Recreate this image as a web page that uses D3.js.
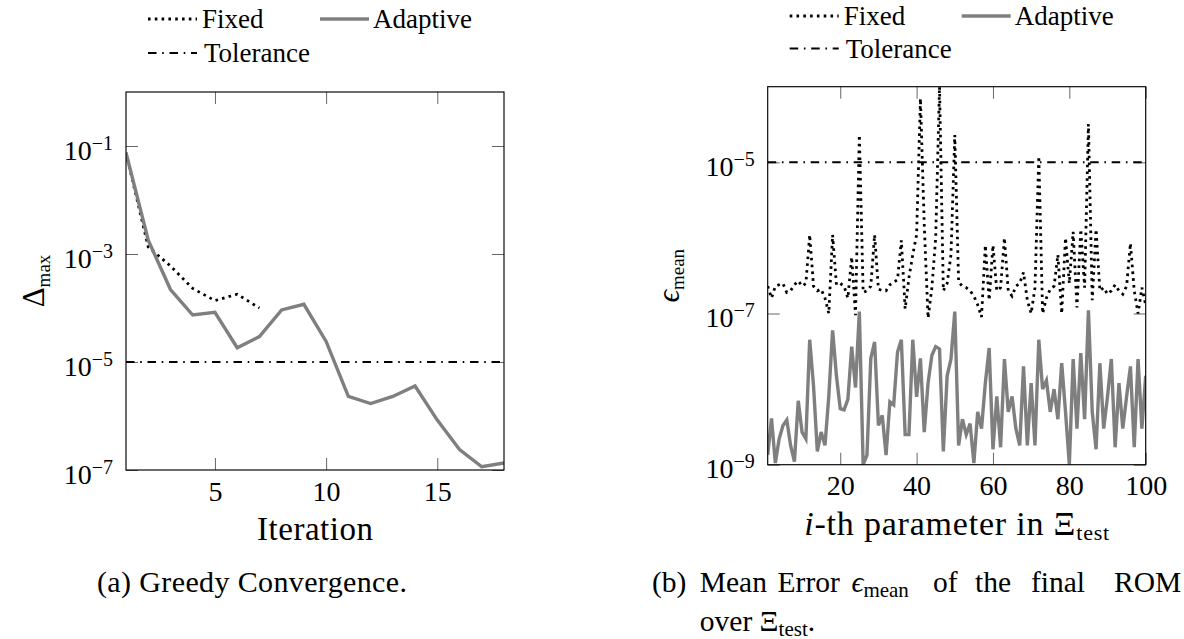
<!DOCTYPE html>
<html>
<head>
<meta charset="utf-8">
<script src="https://cdn.jsdelivr.net/npm/d3@7"></script>
<style>
  body { margin: 0; background: #fff; }
  svg text { font-family: "Liberation Serif", "DejaVu Serif", serif; fill: #000; }
</style>
</head>
<body>
<svg id="chart" width="1184" height="639"></svg>
<script>
// ---- (a) greedy convergence: max error estimator per iteration ----
const greedyAdaptive = [7.5e-2, 1.8e-3, 2.2e-4, 7.4e-5, 8.3e-5, 1.84e-5, 2.95e-5, 9.2e-5, 1.17e-4,
  2.4e-5, 2.3e-6, 1.7e-6, 2.3e-6, 3.6e-6, 8.4e-7, 2.4e-7, 1.15e-7, 1.35e-7];
const greedyFixed = [7.5e-2, 1.35e-3, 6.0e-4, 2.3e-4, 1.37e-4, 1.8e-4, 1.0e-4];
const tolerance = 1e-5;
const iterTicks = [5, 10, 15];
const greedyExpTicks = [-1, -3, -5, -7];

// ---- (b) mean error of the final ROM over the test set (100 parameters) ----
const meanFixed = [
  2.3e-7, 1.6e-7, 2.3e-7, 2.4e-7, 2.5e-7, 1.9e-7, 2.0e-7, 2.4e-7, 2.7e-7, 2.3e-7,
  2.5e-7, 1.1e-6, 2.3e-7, 2.0e-7, 2.1e-7, 1.6e-7, 1.0e-7, 1.1e-6, 2.4e-7, 2.5e-7,
  2.3e-7, 1.6e-7, 5.6e-7, 9.5e-8, 2.3e-5, 1.9e-7, 2.0e-7, 2.3e-7, 1.1e-6, 2.1e-7,
  2.0e-7, 2.0e-7, 2.4e-7, 2.6e-7, 2.8e-7, 9.3e-7, 1.15e-7, 3.0e-7, 6.0e-7, 1.1e-6,
  7.0e-5, 1.5e-6, 8.7e-8, 2.2e-7, 1.0e-6, 1.0e-4, 2.0e-7, 2.5e-7, 6.0e-7, 2.3e-5,
  2.6e-7, 2.3e-7, 2.2e-7, 2.0e-7, 1.7e-7, 1.3e-7, 9.0e-8, 8.0e-7, 1.5e-7, 8.0e-7,
  2.0e-7, 2.2e-7, 1.0e-6, 2.0e-7, 1.7e-7, 2.3e-7, 2.5e-7, 3.5e-7, 1.5e-7, 1.0e-7,
  2.2e-7, 1.2e-5, 1.0e-7, 1.6e-7, 2.1e-7, 2.3e-7, 6.0e-7, 1.0e-7, 1.0e-6, 2.5e-7,
  1.2e-6, 1.2e-7, 1.3e-6, 2.2e-7, 3.2e-5, 1.5e-7, 1.3e-6, 2.0e-7, 2.2e-7, 1.8e-7,
  2.0e-7, 2.4e-7, 2.0e-7, 1.8e-7, 2.3e-7, 8.5e-7, 2.0e-7, 1.0e-7, 2.2e-7, 1.3e-7
];
const meanAdaptive = [
  1.35e-9, 4.1e-9, 1.05e-9, 2.2e-9, 3.3e-9, 3.9e-9, 1.8e-9, 1.1e-9, 7.0e-9, 2.7e-9,
  2.2e-9, 4.5e-8, 1.1e-8, 1.5e-9, 2.7e-9, 1.8e-9, 8.0e-9, 6.0e-8, 1.5e-8, 5.5e-9,
  5.3e-9, 7.3e-9, 3.65e-8, 1.05e-8, 1.06e-7, 1.0e-9, 1.34e-9, 2.55e-8, 4.2e-8, 3.3e-9,
  4.5e-9, 1.34e-9, 6.8e-9, 6.2e-9, 3.1e-8, 4.5e-8, 2.5e-9, 2.5e-9, 4.5e-8, 7.9e-9,
  2.55e-8, 2.7e-9, 1.2e-8, 2.8e-8, 3.65e-8, 3.4e-8, 1.5e-9, 1.5e-8, 2.5e-8, 1.06e-7,
  1.8e-9, 4.0e-9, 2.5e-9, 3.5e-9, 1.05e-9, 5.0e-9, 3.0e-9, 1.2e-8, 3.5e-8, 1.6e-9,
  8.0e-9, 1.7e-9, 2.5e-8, 5.0e-9, 8.0e-9, 3.0e-9, 1.8e-9, 2.0e-8, 1.8e-9, 1.2e-8,
  1.8e-9, 4.5e-8, 1.0e-8, 1.3e-8, 5.0e-9, 1.0e-8, 4.0e-9, 2.2e-8, 5.0e-9, 1.0e-9,
  2.5e-8, 3.0e-9, 3.0e-8, 4.0e-9, 1.1e-7, 5.0e-9, 1.6e-9, 2.2e-8, 3.0e-9, 8.0e-9,
  2.5e-8, 1.7e-9, 1.2e-8, 3.0e-9, 8.0e-9, 2.0e-8, 1.7e-9, 2.5e-8, 3.0e-9, 1.5e-8
];
const paramTicks = [20, 40, 60, 80, 100];
const meanExpTicks = [-5, -7, -9];

// ---- styles ----
const GRAY = "#7f7f7f";
const styles = {
  fixed:     { stroke: "#000", width: 2.8, dash: "2.6,4.2", cap: "butt" },
  adaptive:  { stroke: GRAY,   width: 3.4, dash: null,      cap: "butt" },
  tolerance: { stroke: "#000", width: 2.1, dash: "8.5,5.7,1.6,5.7", cap: "butt" }
};

const svg = d3.select("#chart");

function styled(sel, s) {
  return sel.attr("fill", "none").attr("stroke", s.stroke).attr("stroke-width", s.width)
    .attr("stroke-dasharray", s.dash).attr("stroke-linecap", s.cap).attr("stroke-linejoin", "miter");
}

function powerLabel(text, exp, base, sup) {
  text.text(null);
  text.append("tspan").attr("font-size", base).text("10");
  text.append("tspan").attr("font-size", sup).attr("dy", -10).text("\u2212" + Math.abs(exp));
}

function drawPanel(cfg) {
  const { box, x, y, xTicks, yExps, series, clipId, legendRow1, legendRow2 } = cfg;
  const g = svg.append("g");

  g.append("clipPath").attr("id", clipId).append("rect")
    .attr("x", box.x).attr("y", box.y).attr("width", box.w).attr("height", box.h);

  // inward ticks on all four sides
  const tickLen = 12;
  const yTickVals = yExps.map(e => Math.pow(10, e));
  const bottom = g.append("g").attr("transform", `translate(0,${box.y + box.h})`)
    .call(d3.axisBottom(x).tickValues(xTicks).tickSize(-tickLen).tickFormat(d3.format("d")));
  bottom.selectAll("text").attr("font-size", 28).attr("y", 30.5).attr("dy", 0);
  g.append("g").attr("transform", `translate(0,${box.y})`)
    .call(d3.axisTop(x).tickValues(xTicks).tickSize(-tickLen).tickFormat(""));
  const left = g.append("g").attr("transform", `translate(${box.x},0)`)
    .call(d3.axisLeft(y).tickValues(yTickVals).tickSize(-tickLen).tickPadding(13));
  left.selectAll("text").attr("dy", 13).each(function (d) {
    powerLabel(d3.select(this), Math.round(Math.log10(d)), 28, 20);
  });
  g.append("g").attr("transform", `translate(${box.x + box.w},0)`)
    .call(d3.axisRight(y).tickValues(yTickVals).tickSize(-tickLen).tickFormat(""));

  g.selectAll(".domain").remove();
  g.selectAll(".tick line").attr("stroke", "#666").attr("stroke-width", 1);
  g.selectAll(".tick text").attr("font-family", null).attr("fill", "#000");

  // data
  const plot = g.append("g").attr("clip-path", `url(#${clipId})`);
  plot.append("line")
    .attr("x1", box.x).attr("x2", box.x + box.w)
    .attr("y1", y(tolerance)).attr("y2", y(tolerance))
    .call(styled, styles.tolerance);
  series.forEach(s => {
    const line = d3.line().x((d, i) => x(i + 1)).y(d => y(d));
    plot.append("path").attr("d", line(s.values)).call(styled, styles[s.key]);
  });

  // frame
  g.append("rect").attr("x", box.x).attr("y", box.y).attr("width", box.w).attr("height", box.h)
    .attr("fill", "none").attr("stroke", "#000").attr("stroke-width", 1.15);

  // legend above the frame
  const lg = g.append("g").attr("transform", `translate(${box.x},0)`);
  const rows = [
    { key: "fixed", label: "Fixed", x0: 22, tx: 76, base: legendRow1 },
    { key: "adaptive", label: "Adaptive", x0: 194, tx: 247, base: legendRow1 },
    { key: "tolerance", label: "Tolerance", x0: 22, tx: 78, base: legendRow2 }
  ];
  rows.forEach(r => {
    lg.append("line").attr("x1", r.x0).attr("x2", r.x0 + 49)
      .attr("y1", r.base - 9).attr("y2", r.base - 9).call(styled, styles[r.key]);
    lg.append("text").attr("x", r.tx).attr("y", r.base).attr("font-size", 27).text(r.label);
  });
  return g;
}

// panel (a)
const boxA = { x: 126, y: 92, w: 378, h: 378 };
const xA = d3.scaleLinear().domain([1, 18]).range([boxA.x, boxA.x + boxA.w]);
const yA = d3.scaleLog().domain([1e-7, 1]).range([boxA.y + boxA.h, boxA.y]);
drawPanel({
  box: boxA, x: xA, y: yA, xTicks: iterTicks, yExps: greedyExpTicks, clipId: "clipA",
  legendRow1: 28, legendRow2: 62,
  series: [{ key: "fixed", values: greedyFixed }, { key: "adaptive", values: greedyAdaptive }]
});

// panel (b)
const boxB = { x: 767.7, y: 86.7, w: 378, h: 378 };
const xB = d3.scaleLinear().domain([1, 100]).range([boxB.x, boxB.x + boxB.w]);
const yB = d3.scaleLog().domain([1e-9, 1e-4]).range([boxB.y + boxB.h, boxB.y]);
drawPanel({
  box: boxB, x: xB, y: yB, xTicks: paramTicks, yExps: meanExpTicks, clipId: "clipB",
  legendRow1: 25, legendRow2: 57.5,
  series: [{ key: "fixed", values: meanFixed }, { key: "adaptive", values: meanAdaptive }]
});

// axis titles
const ylabA = svg.append("text")
  .attr("transform", `translate(44,${boxA.y + boxA.h / 2}) rotate(-90)`)
  .attr("text-anchor", "middle");
ylabA.append("tspan").attr("font-size", 31).text("\u0394");
ylabA.append("tspan").attr("font-size", 19).attr("dy", 6).text("max");

const ylabB = svg.append("text")
  .attr("transform", `translate(679,${boxB.y + boxB.h / 2}) rotate(-90)`)
  .attr("text-anchor", "middle");
ylabB.append("tspan").attr("font-size", 31).attr("font-style", "italic").text("\u03F5");
ylabB.append("tspan").attr("font-size", 19).attr("dy", 5).text("mean");

svg.append("text").attr("x", boxA.x + boxA.w / 2).attr("y", boxA.y + boxA.h + 70)
  .attr("text-anchor", "middle").attr("font-size", 33)
  .attr("textLength", 116).attr("lengthAdjust", "spacing").text("Iteration");

const xlabB = svg.append("text").attr("x", boxB.x + boxB.w / 2).attr("y", boxB.y + boxB.h + 70)
  .attr("text-anchor", "middle").attr("font-size", 34)
  .attr("textLength", 305).attr("lengthAdjust", "spacing");
xlabB.append("tspan").attr("font-style", "italic").text("i");
xlabB.append("tspan").text("-th parameter in \u039E");
xlabB.append("tspan").attr("font-size", 22).attr("dy", 5).text("test");

// captions
svg.append("text").attr("x", 97).attr("y", 591.7).attr("font-size", 30)
  .attr("textLength", 310).attr("lengthAdjust", "spacing").text("(a) Greedy Convergence.");

const capWords = [
  { t: "(b)", x: 651.9 }, { t: "Mean", x: 699.8 }, { t: "Error", x: 777.6 },
  { t: "\u03F5", x: 851.5, it: true, sub: "mean" }, { t: "of", x: 933 },
  { t: "the", x: 975 }, { t: "final", x: 1031 }, { t: "ROM", x: 1114 }
];
capWords.forEach(w => {
  const t = svg.append("text").attr("x", w.x).attr("y", 591.7).attr("font-size", 29.5);
  t.append("tspan").attr("font-style", w.it ? "italic" : null).text(w.t);
  if (w.sub) t.append("tspan").attr("font-size", 21).attr("dy", 5).text(w.sub);
});
const cap2 = svg.append("text").attr("x", 699.8).attr("y", 630.5).attr("font-size", 29.5);
cap2.append("tspan").text("over \u039E");
cap2.append("tspan").attr("font-size", 21).attr("dy", 5).text("test");
cap2.append("tspan").attr("dy", -5).text(".");
</script>
</body>
</html>
